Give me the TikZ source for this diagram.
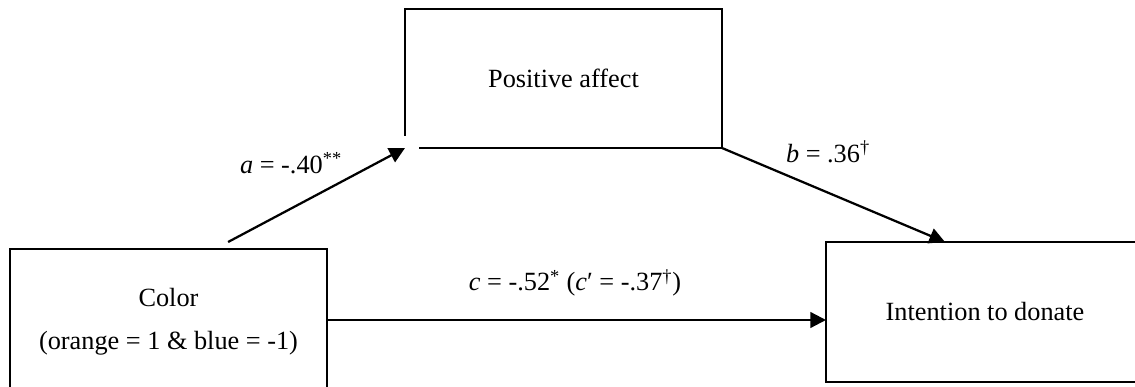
\documentclass[tikz,border=0pt]{standalone}
\usepackage{fontspec}
\setmainfont{Liberation Serif}
\usetikzlibrary{arrows.meta,calc}

\begin{document}
\begin{tikzpicture}[scale=1.0,
  box/.style={minimum width=7.925cm,minimum height=3.5cm,inner sep=0pt,outer sep=0pt,
    align=center,font=\fontsize{18.7}{30.6}\selectfont},
  lbl/.style={font=\fontsize{18.7}{22}\selectfont},
  edge/.style={draw,line width=1pt},
  arr/.style={line width=1.6pt,-{Triangle[length=0.39cm,width=0.39cm]}}]
\useasboundingbox (0,0) rectangle (28.375,9.675);
% mediator (outline left open at the corner)
\node[box,minimum height=3.475cm] (pa) at (14.0875,7.7125) {Positive affect};
\draw[edge] ([yshift=0.3cm]pa.south west) -- (pa.north west) -- (pa.north east)
  -- (pa.south east) -- ([xshift=0.35cm]pa.south west);
% predictor and outcome
\node[box,edge,minimum height=3.65cm] (col) at (4.2125,1.625)
  {Color\\(orange = 1 \& blue = -1)};
\node[box,edge,minimum width=7.95cm] (id) at (24.625,1.875) {Intention to donate};
% paths
\draw[arr] ([xshift=1.49cm,yshift=0.175cm]col.north) -- (pa.south west);
\draw[arr] (pa.south east) -- ([xshift=-1cm]id.north);
\draw[arr] ([yshift=0.05cm]col.east) -- ([yshift=0.05cm]col.east -| id.west);
\node[lbl] (la) at (7.275,5.6) {\textit{a} = -.40\textsuperscript{**}};
\node[lbl] (lb) at (20.7,5.875) {\textit{b} = .36\textsuperscript{\textdagger}};
\node[lbl] (lc) at (14.375,2.6)
  {\textit{c} = -.52\textsuperscript{*} (\textit{c}′ = -.37\textsuperscript{\textdagger})};
\end{tikzpicture}
\end{document}
